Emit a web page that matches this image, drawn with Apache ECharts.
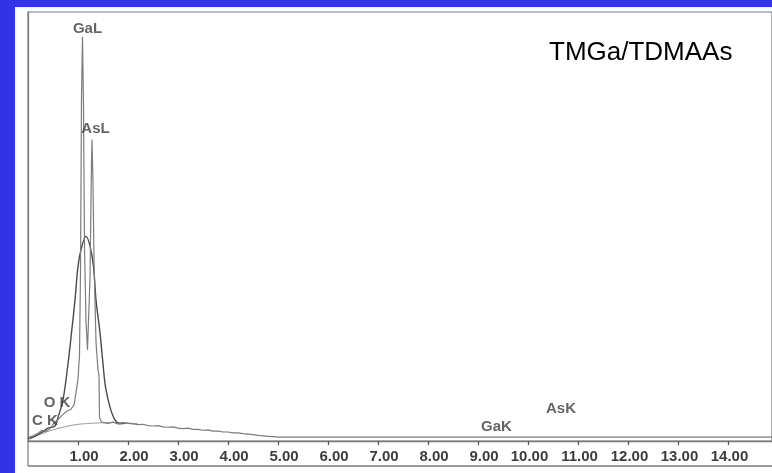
<!DOCTYPE html>
<html><head><meta charset="utf-8">
<script src="https://cdn.jsdelivr.net/npm/echarts@6/dist/echarts.min.js"></script>
<style>html,body{margin:0;padding:0;background:#fff}#c{width:772px;height:473px}</style>
</head><body><div id="c"></div>
<script>
// Sharp (high resolution) spectrum: energy (keV) and counts (arbitrary, 0-1000)
const sharpKeV = [0.00,0.10,0.20,0.28,0.36,0.45,0.52,0.60,0.70,0.78,0.86,0.92,0.96,1.00,1.03,1.05,1.07,1.09,1.11,1.13,1.16,1.19,1.21,1.24,1.27,1.28,1.30,1.32,1.36,1.40,1.42,1.43,1.47,1.5,1.6,1.7,1.8,1.9,2.0,2.1,2.2,2.3,2.4,2.5,2.6,2.7,2.8,2.9,3.0,3.1,3.2,3.3,3.4,3.5,3.6,3.7,3.8,3.9,4.0,4.1,4.2,4.3,4.4,4.5,4.6,4.7,4.8,4.9,5.0,5.5,6.0,7.0,8.0,9.0,10.0,11.0,12.0,13.0,14.0,15.0];
const sharpCounts = [8,12,18,25,22,30,42,50,62,70,74,84,112,145,200,400,800,942,780,450,280,212,215,380,650,703,600,420,230,165,152,55,44,43,41,44,40,43,41,40,38,39,36,35,36,33,32,33,30,29,30,27,27,25,26,23,23,21,21,19,19,17,16,15,13,12,11,10,9,9,9,9,9,9,9,9,9,9,9,9];
// Broad (low resolution) spectrum
const broadKeV = [0.00,0.10,0.20,0.30,0.40,0.54,0.60,0.70,0.80,0.87,0.94,1.00,1.06,1.16,1.24,1.31,1.36,1.44,1.50,1.55,1.64,1.74,1.84,1.95];
const broadCounts = [5,9,15,22,30,35,55,96,180,252,329,407,446,477,455,407,329,252,180,126,79,49,40,41];
// Smooth background (bremsstrahlung) curve
const bgKeV = [0.05,0.10,0.30,0.50,0.70,0.90,1.10,1.40,1.70,2.00,2.20];
const bgCounts = [5,8,18,26,32,37,40,42,43,42,40];
// Peak annotations
const peakNames = ['GaL','AsL','O K','C K','GaK','AsK'];
const peakKeV = [1.19,1.35,0.58,0.34,9.37,10.66];
const peakCounts = [961,727,88,47,32,75];

const chart = echarts.init(document.getElementById('c'), null, {renderer:'canvas'});
const zip = (a,b) => a.map((v,i)=>[v,b[i]]);
const frame = '#7a7a7a';
const txt = '#3c3c3c';
const ff = 'Liberation Sans, Arial, sans-serif';
chart.setOption({
  backgroundColor:'#ffffff',
  animation:false,
  grid:{left:28,right:-4,top:12,bottom:32,show:true,borderColor:frame,borderWidth:1.2,backgroundColor:'transparent'},
  xAxis:{type:'value',min:0,max:14.88,interval:1,
    axisLine:{show:true,lineStyle:{color:frame,width:1.3}},
    axisTick:{show:true,length:4,lineStyle:{color:'#555',width:1.2}},
    splitLine:{show:false},
    axisLabel:{show:true,showMinLabel:false,showMaxLabel:false,margin:8,
      color:txt,fontFamily:ff,fontWeight:'bold',fontSize:15,
      formatter:(v)=>{const s=v.toFixed(2);return s.length>4?'{w|'+s+'}':'{n|'+s+'}';},
      rich:{n:{padding:[0,0,0,12],color:txt,fontFamily:ff,fontWeight:'bold',fontSize:15},
            w:{padding:[0,0,0,3],color:txt,fontFamily:ff,fontWeight:'bold',fontSize:15}}}
  },
  yAxis:{type:'value',min:0,max:1000,axisLine:{show:true,lineStyle:{color:frame,width:1.2}},axisTick:{show:false},axisLabel:{show:false},splitLine:{show:false}},
  series:[
    {type:'line',data:zip(bgKeV,bgCounts),smooth:true,showSymbol:false,lineStyle:{color:'#9a9a9a',width:1},z:1},
    {type:'line',data:zip(broadKeV,broadCounts),smooth:0.35,showSymbol:false,lineStyle:{color:'#4a4a4a',width:1.4},z:2},
    {type:'line',data:zip(sharpKeV,sharpCounts),smooth:false,showSymbol:false,lineStyle:{color:'#7c7c7c',width:1.2},z:3},
    {type:'scatter',symbolSize:0,z:5,
      data:peakNames.map((n,i)=>({name:n,value:[peakKeV[i],peakCounts[i]]})),
      label:{show:true,position:'inside',formatter:(p)=>p.name,color:txt,
        fontFamily:ff,fontWeight:'bold',fontSize:15}}
  ],
  graphic:[
    {type:'rect',shape:{x:0,y:0,width:772,height:7},style:{fill:'#3232e6'},z:100},
    {type:'rect',shape:{x:0,y:0,width:15,height:473},style:{fill:'#3232e6'},z:100},
    {type:'line',shape:{x1:28,y1:441,x2:28,y2:466},style:{stroke:frame,lineWidth:1.2},z:50},
    {type:'line',shape:{x1:28,y1:466,x2:772,y2:466},style:{stroke:frame,lineWidth:1.3},z:50},
    {type:'text',left:549,top:40,style:{text:'TMGa/TDMAAs',fill:'#000',font:'26px "Liberation Sans", Arial, sans-serif'},z:60}
  ]
});
</script></body></html>
